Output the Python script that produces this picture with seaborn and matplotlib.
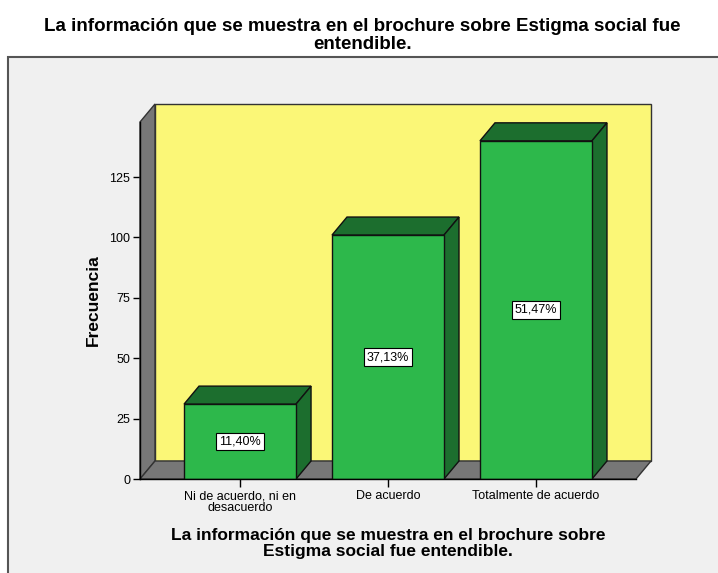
import numpy as np
import pandas as pd
import seaborn as sns
import matplotlib.pyplot as plt
from matplotlib.patches import Polygon, Rectangle

# datos (N = 272)
categorias = ['Ni de acuerdo, ni en\ndesacuerdo', 'De acuerdo', 'Totalmente de acuerdo']
frecuencias = [31, 101, 140]
porcentajes = ['11,40%', '37,13%', '51,47%']
yticks = [0, 25, 50, 75, 100, 125]
titulo = 'La información que se muestra en el brochure sobre Estigma social fue\nentendible.'
etiqueta_x = 'La información que se muestra en el brochure sobre\nEstigma social fue entendible.'
etiqueta_y = 'Frecuencia'

verde = '#2db84b'
verde_osc = '#1c6e2e'
amarillo = '#fbf777'
gris = '#777777'

sns.set_theme(style='white')
plt.rcParams['font.family'] = ['Liberation Sans', 'DejaVu Sans']
plt.rcParams['text.color'] = 'black'
plt.rcParams['axes.labelcolor'] = 'black'
plt.rcParams['xtick.color'] = 'black'
plt.rcParams['ytick.color'] = 'black'

W, H = 718, 573
fig = plt.figure(figsize=(W / 100, H / 100), dpi=100)
fig.patch.set_facecolor('white')

# panel gris de fondo
fig.add_artist(Rectangle((8 / W, -0.02), 1.0, (H - 57) / H + 0.02, transform=fig.transFigure,
                         facecolor='#f0f0f0', edgecolor='#555555', lw=1.5, zorder=0))

ax = fig.add_axes([140 / W, (H - 479) / H, 496 / W, 357 / H])
ax.set_facecolor('none')

df = pd.DataFrame({'categoria': categorias, 'frecuencia': frecuencias})
sns.barplot(data=df, x='categoria', y='frecuencia', ax=ax, color=verde, saturation=1,
            width=0.757, edgecolor='#111111', linewidth=1, zorder=4)

ax.set_xlim(-0.676, 2.676)
ax.set_ylim(0, 147.8)
x0, x1 = ax.get_xlim()
y0, y1 = ax.get_ylim()

# profundidad 3D en pixeles -> unidades de datos
bbox = ax.get_window_extent()
ddx = 15 / bbox.width * (x1 - x0)
ddy = 18 / bbox.height * (y1 - y0)

# pared trasera, pared izquierda y piso
ax.add_patch(Rectangle((x0 + ddx, y0 + ddy), x1 - x0, y1 - y0, facecolor=amarillo,
                       edgecolor='#333333', lw=1, clip_on=False, zorder=1))
ax.add_patch(Polygon([(x0, y0), (x0, y1), (x0 + ddx, y1 + ddy), (x0 + ddx, y0 + ddy)],
                     closed=True, facecolor=gris, edgecolor='#333333', lw=1, clip_on=False, zorder=2))
ax.add_patch(Polygon([(x0, y0), (x1, y0), (x1 + ddx, y0 + ddy), (x0 + ddx, y0 + ddy)],
                     closed=True, facecolor=gris, edgecolor='#333333', lw=1, clip_on=False, zorder=2))

# caras superiores y laterales de las barras
for bar, pct in zip(ax.patches[:len(frecuencias)], porcentajes):
    bx, bw, bh = bar.get_x(), bar.get_width(), bar.get_height()
    ax.add_patch(Polygon([(bx, bh), (bx + bw, bh), (bx + bw + ddx, bh + ddy), (bx + ddx, bh + ddy)],
                         closed=True, facecolor=verde_osc, edgecolor='#111111', lw=1, clip_on=False, zorder=3))
    ax.add_patch(Polygon([(bx + bw, 0), (bx + bw, bh), (bx + bw + ddx, bh + ddy), (bx + bw + ddx, ddy)],
                         closed=True, facecolor=verde_osc, edgecolor='#111111', lw=1, clip_on=False, zorder=3))
    ax.text(bx + bw / 2, bh / 2, pct, ha='center', va='center', fontsize=9, zorder=6,
            bbox=dict(boxstyle='square,pad=0.22', facecolor='white', edgecolor='black', lw=0.8))

for s in ['top', 'right']:
    ax.spines[s].set_visible(False)
for s in ['left', 'bottom']:
    ax.spines[s].set_color('black')
    ax.spines[s].set_linewidth(1)
    ax.spines[s].set_zorder(5)

ax.set_yticks(yticks)
ax.tick_params(axis='y', left=True, length=5, width=1, color='black', labelsize=9, pad=2)
ax.tick_params(axis='x', bottom=True, length=6, width=1, color='black', labelsize=9, pad=2)
for lbl in ax.get_xticklabels():
    lbl.set_linespacing(0.95)

ax.set_ylabel(etiqueta_y, fontsize=12.5, fontweight='bold', labelpad=6)
ax.set_xlabel(etiqueta_x, fontsize=12.5, fontweight='bold', labelpad=10, linespacing=1.1)

fig.text(0.505, 1 - 18 / H, titulo, ha='center', va='top', fontsize=13.5,
         fontweight='bold', linespacing=1.1)

fig.savefig('out.png', dpi=100)
